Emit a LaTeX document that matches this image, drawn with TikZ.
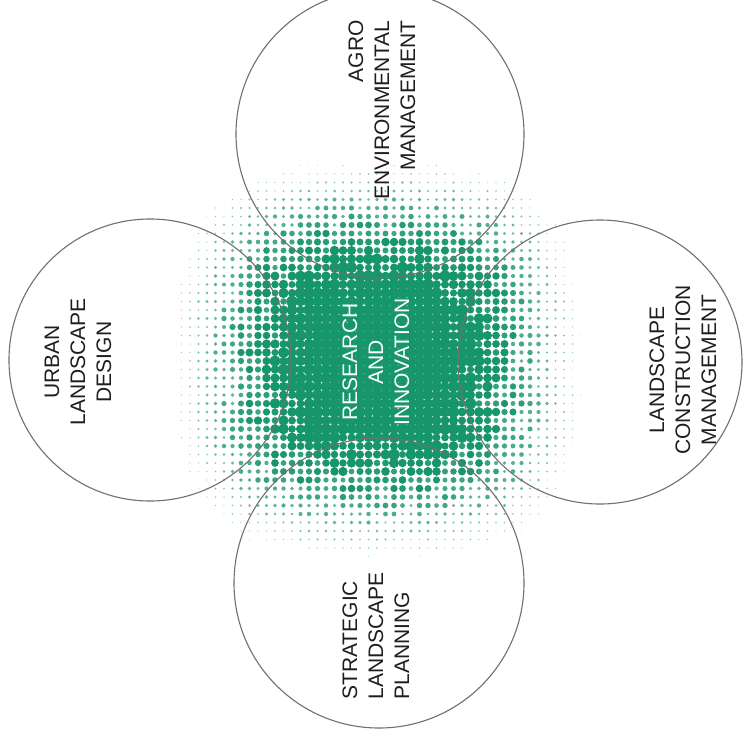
\documentclass[tikz,border=0pt]{standalone}
\usepackage{fontspec}
\setmainfont{Liberation Sans}
\definecolor{dotgreen}{RGB}{22,150,106}
\definecolor{ringgray}{RGB}{112,112,112}
\definecolor{labelink}{RGB}{30,30,30}
\tikzset{
  ring/.style={draw=ringgray, line width=1.1pt},
  label/.style={text=labelink, inner sep=0pt, rotate=90, font=\fontsize{21}{26}\selectfont},
  centerlabel/.style={label, text=white, align=center}
}
\begin{document}
\begin{tikzpicture}[x=1pt,y=-1pt]
\useasboundingbox (0,0) rectangle (744,747);
\clip (0,0) rectangle (744,747);
\fill[white] (0,0) rectangle (744,747);
% halftone dots
\pgfmathsetseed{11}
\foreach \i in {0,...,52} {
  \foreach \j in {0,...,52} {
    \pgfmathsetmacro\dotX{156+8.5*\i}
    \pgfmathsetmacro\dotY{140+8.5*\j}
    \pgfmathsetmacro\dotDx{abs(\dotX-378)/222}
    \pgfmathsetmacro\dotDy{abs(\dotY-360)/215}
    \pgfmathsetmacro\dotT{(\dotDx^3+\dotDy^3+0.0001)^(1/3)}
    \pgfmathsetmacro\dotG{max(0.0001,1-\dotT)}
    \pgfmathsetmacro\dotR{5.7*min(1,1.75*(\dotG^1.3)*(0.72+0.56*rnd))}
    \pgfmathsetmacro\dotC{min(100,40+16*\dotR)}
    \ifdim\dotR pt>0.45pt
      \fill[dotgreen!\dotC] (\dotX,\dotY) circle[radius=\dotR];
    \fi
  }
}
% rings
\node[ring, circle, minimum size=288pt, inner sep=0pt] (agro) at (380,134) {};
\node[ring, circle, minimum size=282pt, inner sep=0pt] (urban) at (150,360) {};
\node[ring, circle, minimum size=284pt, inner sep=0pt] (constr) at (600,362) {};
\node[ring, circle, minimum size=290pt, inner sep=0pt] (strat) at (379,583) {};
% labels
\node[label, align=right] (agrotext) at (382,110) {AGRO\\ENVIRONMENTAL\\MANAGEMENT};
\node[label, align=center] (urbantext) at (78,362) {URBAN\\LANDSCAPE\\DESIGN};
\node[label, align=center] (constrtext) at (683,370) {LANDSCAPE\\CONSTRUCTION\\MANAGEMENT};
\node[label, align=left] (strattext) at (376,636) {STRATEGIC\\LANDSCAPE\\PLANNING};
\node[centerlabel] (research) at (376,362) {RESEARCH\\AND\\INNOVATION};
\end{tikzpicture}
\end{document}
